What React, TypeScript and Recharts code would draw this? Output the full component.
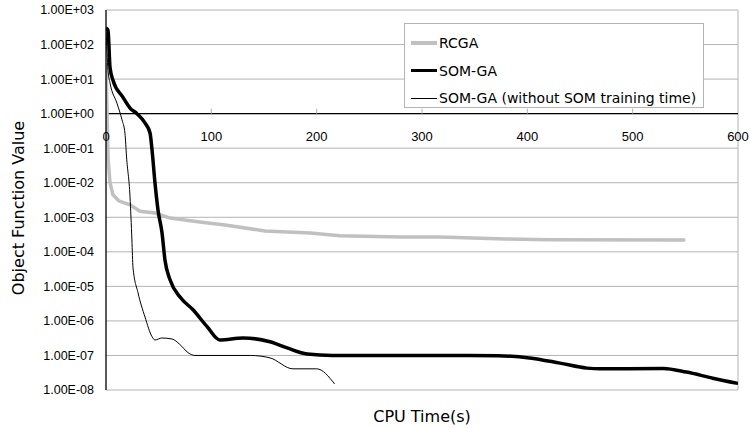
import React from 'react';
import { LineChart, Line, XAxis, YAxis, CartesianGrid, ReferenceLine, ReferenceDot } from 'recharts';

const seriesNames = ['RCGA', 'SOM-GA', 'SOM-GA (without SOM training time)'];

const xTicks = [0, 100, 200, 300, 400, 500, 600];
const yTicks = [1e-8, 1e-7, 1e-6, 1e-5, 1e-4, 1e-3, 1e-2, 1e-1, 1e0, 1e1, 1e2, 1e3];

// RCGA (grey)
const rcgaTime = [0, 1, 2, 3.8, 6.6, 12, 22.8, 32.3, 46.5, 60.8, 89, 113, 151, 194, 222, 279, 317, 379, 421, 550];
const rcgaValue = [30, 1, 0.05, 0.01, 4.5e-3, 3e-3, 2.3e-3, 1.5e-3, 1.33e-3, 9.5e-4, 7.3e-4, 6e-4, 4e-4, 3.5e-4, 2.9e-4, 2.7e-4, 2.7e-4, 2.35e-4, 2.25e-4, 2.2e-4];

// SOM-GA (thick black)
const somTime = [0, 1.9, 3.8, 6.6, 16, 22.8, 29.4, 37, 41.8, 43.7, 46.5, 49.4, 53.2, 56, 60.8, 70.3, 82.6, 96, 108, 130, 155.7, 172, 191, 215, 279, 345, 372, 402, 431, 456.6, 469, 529, 551, 576, 600];
const somValue = [300, 260, 22, 9.3, 3.0, 1.45, 1.0, 0.54, 0.275, 0.089, 0.01, 1.6e-3, 3.5e-4, 5.7e-5, 1.55e-5, 4.9e-6, 2.1e-6, 6.8e-7, 2.8e-7, 3.2e-7, 2.5e-7, 1.65e-7, 1.1e-7, 1.0e-7, 1.0e-7, 1.0e-7, 9.8e-8, 8.5e-8, 6e-8, 4.3e-8, 4.1e-8, 4.2e-8, 3.3e-8, 2.2e-8, 1.55e-8];

// SOM-GA without SOM training time (thin black)
const somNoTrainTime = [0, 1.9, 3.8, 10.4, 15.2, 18, 19.5, 22.8, 24.6, 25.6, 30.4, 37, 43.7, 46.5, 53, 62.7, 70, 78, 84.5, 137, 155.7, 177.5, 200, 217];
const somNoTrainValue = [300, 18, 7.8, 2.0, 0.66, 0.27, 0.056, 3.9e-3, 2.2e-4, 3.6e-5, 6.5e-6, 1.3e-6, 3.5e-7, 2.8e-7, 3.2e-7, 3.0e-7, 2.1e-7, 1.2e-7, 1.0e-7, 1.0e-7, 8.5e-8, 4.1e-8, 4.1e-8, 1.5e-8];

const toPoints = (t: number[], v: number[]) => t.map((x, i) => ({ time: x, value: v[i] }));

const rcgaData = toPoints(rcgaTime, rcgaValue);
const somData = toPoints(somTime, somValue);
const somNoTrainData = toPoints(somNoTrainTime, somNoTrainValue);

const TICK_FONT = "'Liberation Sans', Arial, sans-serif";
const TITLE_FONT = "'DejaVu Sans', sans-serif";
const GRID = '#b4b4b4';
const GREY_LINE = '#c0c0c0';

const formatExp = (v: number) => {
    const exp = Math.round(Math.log10(v));
    const sign = exp < 0 ? '-' : '+';
    const abs = Math.abs(exp);
    return `1.00E${sign}${abs < 10 ? '0' + abs : abs}`;
};

// tick mark + label drawn on the axis that crosses at y = 1
const XTickAtOne = (props: any) => {
    const { cx, cy, label } = props;
    return (
        <g>
            {label !== 0 && label !== 600 && <line x1={cx} x2={cx} y1={cy} y2={cy - 5} stroke={GRID} />}
            <text x={cx} y={cy + 27} textAnchor="middle" fontSize={13} fontFamily={TICK_FONT} fill="#000">{label}</text>
        </g>
    );
};

const legendStyles = [
    { color: GREY_LINE, width: 3.5 },
    { color: '#000', width: 3.5 },
    { color: '#000', width: 1 },
];

const LegendBox = () => (
    <div style={{ position: 'absolute', left: 404, top: 23, width: 298, height: 83, border: `1px solid ${GRID}`, background: '#fff', fontFamily: TITLE_FONT, fontSize: 14 }}>
        {seriesNames.map((name, i) => (
            <div key={name} style={{ position: 'absolute', left: 6, top: 8 + i * 27.5, height: 22, display: 'flex', alignItems: 'center', whiteSpace: 'nowrap' }}>
                <span style={{ display: 'inline-block', width: 26, height: legendStyles[i].width, background: legendStyles[i].color, marginRight: 2 }} />
                <span>{name}</span>
            </div>
        ))}
    </div>
);

const App: React.FC = () => (
    <div style={{ position: 'absolute', left: 0, top: 0, width: 750, height: 428, background: '#fff' }}>
        <LineChart width={750} height={428} data={somData} margin={{ top: 10, right: 12, bottom: 0, left: 0 }}>
            <CartesianGrid vertical={false} stroke={GRID} strokeWidth={1} />
            <XAxis
                dataKey="time"
                type="number"
                domain={[0, 600]}
                ticks={xTicks}
                allowDataOverflow
                height={38}
                axisLine={false}
                tick={false}
                tickLine={false}
                label={({ viewBox }: any) => (
                    <text x={viewBox.x + viewBox.width / 2} y={viewBox.y + 32} textAnchor="middle" fontSize={16} fontFamily={TITLE_FONT} fill="#000">CPU Time(s)</text>
                )}
            />
            <YAxis
                type="number"
                scale="log"
                domain={[1e-8, 1e3]}
                ticks={yTicks}
                allowDataOverflow
                width={106}
                axisLine={{ stroke: '#000', strokeWidth: 1.3 }}
                tickLine={false}
                tickSize={0}
                tickMargin={12}
                tickFormatter={formatExp}
                tick={{ fontSize: 12.5, fontFamily: TICK_FONT, fill: '#000' }}
                label={({ viewBox }: any) => {
                    const cy = viewBox.y + viewBox.height / 2 + 8;
                    return (
                        <text x={24} y={cy} transform={`rotate(-90, 24, ${cy})`} textAnchor="middle" fontSize={16} fontFamily={TITLE_FONT} fill="#000">Object Function Value</text>
                    );
                }}
            />
            <ReferenceLine x={600} stroke={GRID} />
            <ReferenceLine y={1} stroke="#000" strokeWidth={1.3} />
            {xTicks.map(t => (
                <ReferenceDot key={t} x={t} y={1} r={0} shape={(p: any) => <XTickAtOne {...p} label={t} />} />
            ))}
            <Line data={rcgaData} dataKey="value" type="linear" stroke={GREY_LINE} strokeWidth={3.5} dot={false} isAnimationActive={false} name={seriesNames[0]} />
            <Line data={somData} dataKey="value" type="monotone" stroke="#000" strokeWidth={3.5} dot={false} isAnimationActive={false} name={seriesNames[1]} />
            <Line data={somNoTrainData} dataKey="value" type="monotone" stroke="#000" strokeWidth={1} dot={false} isAnimationActive={false} name={seriesNames[2]} />
        </LineChart>
        <LegendBox />
    </div>
);

export default App;
